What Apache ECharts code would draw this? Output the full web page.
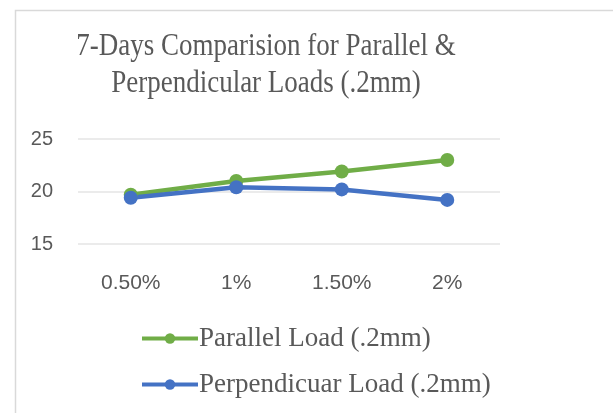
<!DOCTYPE html>
<html>
<head>
<meta charset="utf-8">
<script src="https://cdn.jsdelivr.net/npm/echarts@6/dist/echarts.min.js"></script>
<style>
  html, body { margin: 0; padding: 0; background: #ffffff; }
  #chart { width: 613px; height: 413px; }
</style>
</head>
<body>
<div id="chart"></div>
<script>
// Fibre content categories and 7-day strength values
const categories = ['0.50%', '1%', '1.50%', '2%'];
const parallelLoad = [19.7, 21.0, 21.9, 23.0];
const perpendicularLoad = [19.4, 20.4, 20.2, 19.2];
const seriesNames = ['Parallel Load (.2mm)', 'Perpendicuar Load (.2mm)'];
const titleLines = ['7-Days Comparision for Parallel &', 'Perpendicular Loads (.2mm)'];

const chart = echarts.init(document.getElementById('chart'), null, { renderer: 'canvas' });

const serifFont = '"Liberation Serif", "DejaVu Serif", serif';
const sansFont = '"Liberation Sans", "Open Sans", sans-serif';
const textGray = '#595959';

function lineSeries(name, data, color) {
  return {
    name: name,
    type: 'line',
    data: data,
    symbol: 'circle',
    symbolSize: 14,
    lineStyle: { color: color, width: 4.5 },
    itemStyle: { color: color },
    emphasis: { disabled: true }
  };
}

// Title lines, drawn slightly tall and narrow
function titleLine(text, y) {
  return {
    type: 'text',
    x: 266,
    y: y,
    scaleY: 1.2,
    silent: true,
    style: {
      text: text,
      fontFamily: serifFont,
      fontSize: 27,
      fill: textGray,
      align: 'center',
      verticalAlign: 'middle'
    }
  };
}

chart.setOption({
  animation: false,
  graphic: [
    {
      type: 'rect',
      shape: { x: 15.5, y: 10.5, width: 700, height: 500 },
      style: { fill: 'none', stroke: '#d9d9d9', lineWidth: 1.5 },
      silent: true,
      z: -1
    },
    titleLine(titleLines[0], 46),
    titleLine(titleLines[1], 83)
  ],
  legend: {
    orient: 'vertical',
    left: 140,
    top: 325,
    padding: 0,
    itemWidth: 56,
    itemHeight: 13,
    itemGap: 19,
    lineStyle: { width: 4 },
    textStyle: {
      fontFamily: serifFont,
      fontSize: 27,
      color: textGray,
      padding: [0, 0, 0, -4]
    },
    data: seriesNames
  },
  grid: {
    left: 78,
    right: 113,
    top: 139,
    height: 105,
    containLabel: false
  },
  xAxis: {
    type: 'category',
    data: categories,
    boundaryGap: true,
    axisLine: { show: false },
    axisTick: { show: false },
    axisLabel: {
      fontFamily: sansFont,
      fontSize: 21,
      color: textGray,
      margin: 29
    }
  },
  yAxis: {
    type: 'value',
    min: 15,
    max: 25,
    interval: 5,
    axisLine: { show: false },
    axisTick: { show: false },
    splitLine: { lineStyle: { color: '#e4e4e4', width: 1.5 } },
    axisLabel: {
      fontFamily: sansFont,
      fontSize: 20,
      color: textGray,
      margin: 25
    }
  },
  series: [
    lineSeries(seriesNames[0], parallelLoad, '#70ad47'),
    lineSeries(seriesNames[1], perpendicularLoad, '#4472c4')
  ]
});
</script>
</body>
</html>
